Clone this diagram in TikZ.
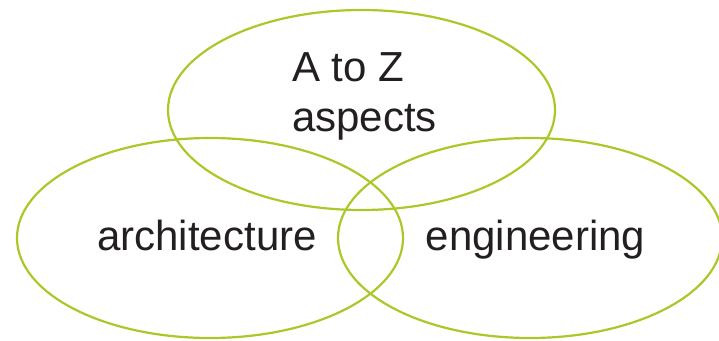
\documentclass[tikz,border=0pt]{standalone}
\usepackage{fontspec}
\setmainfont{Liberation Sans}
\usetikzlibrary{shapes.geometric}
\definecolor{venngreen}{RGB}{170,200,40}
\definecolor{txtgray}{RGB}{35,31,32}
\begin{document}
\begin{tikzpicture}[x=1pt,y=-1pt,
  venn/.style={ellipse, draw=venngreen, line width=2.2pt, inner sep=0pt, outer sep=0pt},
  lbl/.style={text=txtgray, font=\fontsize{42}{50}\selectfont, inner sep=0pt}]
\useasboundingbox (0,0) rectangle (719,340);
\node[venn, minimum width=387pt, minimum height=200pt] (top) at (361.5,110) {};
\node[venn, minimum width=386pt, minimum height=200pt] (left) at (210,238) {};
\node[venn, minimum width=384pt, minimum height=200pt] (right) at (530,238) {};
\node[lbl, anchor=base west, align=left] (ttop) at (292,131.7) {A to Z\\aspects};
\node[lbl, anchor=base] (tleft) at (207,250.7) {architecture};
\node[lbl, anchor=base] (tright) at (535.5,250.7) {engineering};
\end{tikzpicture}
\end{document}
